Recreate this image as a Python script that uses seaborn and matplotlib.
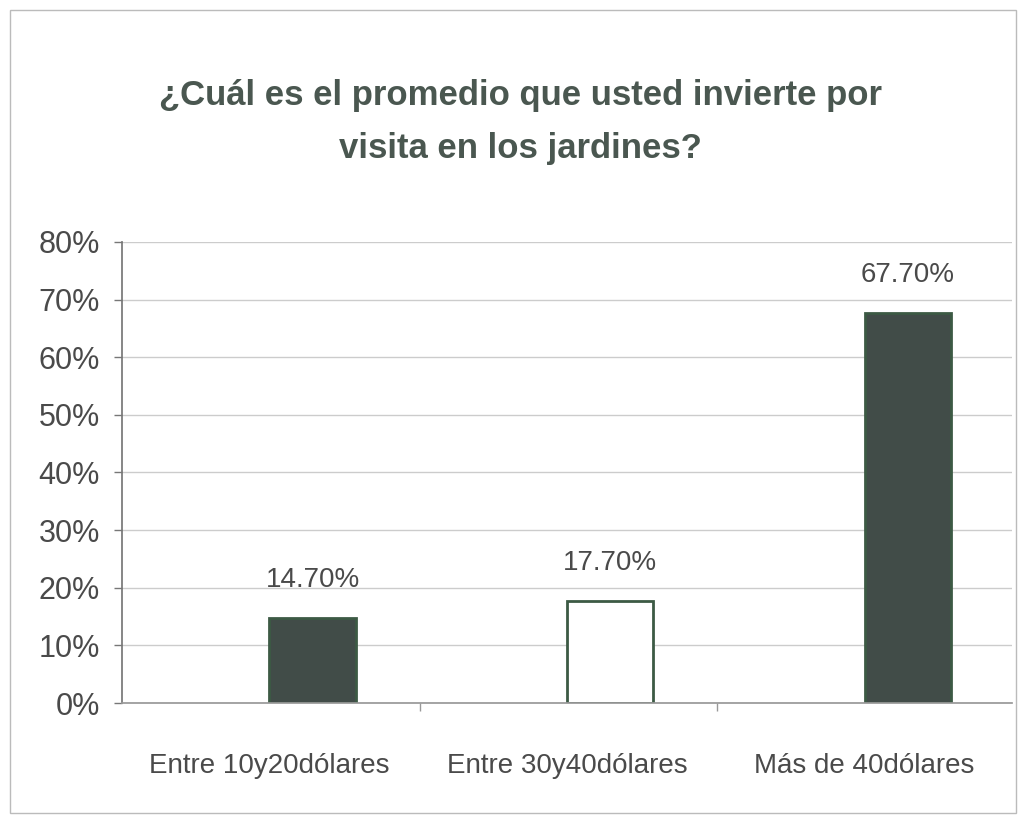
import matplotlib
matplotlib.use("Agg")
import matplotlib.pyplot as plt
import seaborn as sns
import pandas as pd
from matplotlib.patches import Rectangle

categories = ["Entre 10y20dólares", "Entre 30y40dólares", "Más de 40dólares"]
values = [14.7, 17.7, 67.7]
value_labels = ["14.70%", "17.70%", "67.70%"]
yticks = [0, 10, 20, 30, 40, 50, 60, 70, 80]
ytick_labels = ["0%", "10%", "20%", "30%", "40%", "50%", "60%", "70%", "80%"]
title = "¿Cuál es el promedio que usted invierte por\nvisita en los jardines?"

sns.set_theme(style="white")
plt.rcParams['font.family'] = ['Liberation Sans', 'DejaVu Sans']

df = pd.DataFrame({"cat": categories, "val": values})
fig = plt.figure(figsize=(10.26, 8.21), dpi=100)
ax = fig.add_axes([122/1026, 1-703/821, (1012-122)/1026, (703-242)/821])

dark = "#3f4e49"
sns.barplot(data=df, x="cat", y="val", ax=ax, width=0.29,
            palette=[dark, "#ffffff", dark], hue="cat", legend=False,
            edgecolor="#3c5a44", linewidth=2)

ax.set_xlim(-0.64, 2.35)
ax.set_ylim(0, 80)
ax.set_yticks(yticks)
ax.set_yticklabels(ytick_labels, fontsize=22, color="#4a4a4a")
ax.set_xticks([i - 0.145 for i in range(len(categories))])
ax.set_xticklabels(categories, fontsize=20, color="#4a4a4a")
ax.tick_params(axis="x", length=0, pad=36)
ax.tick_params(axis="y", length=6, width=1, color="#777777", left=True, pad=10)
ax.set_xlabel("")
ax.set_ylabel("")
ax.yaxis.grid(True, color="#cccccc", linewidth=1)
ax.set_axisbelow(True)
for s in ["top", "right"]:
    ax.spines[s].set_visible(False)
ax.spines["left"].set_color("#777777")
ax.spines["bottom"].set_color("#999999")
ax.set_xticks([0.36, 1.36], minor=True)
ax.tick_params(axis="x", which="minor", length=6, color="#999999", bottom=True, direction="out")

for i, (v, lab) in enumerate(zip(values, value_labels)):
    ax.annotate(lab, (i, v), xytext=(0, 18), textcoords="offset points",
                ha="center", va="bottom", fontsize=20, color="#4a4a4a")

fig.text(0.507, 1-122/821, title, ha="center", va="center", fontsize=25,
         fontweight="bold", color="#4a5750", linespacing=1.75)

fig.patches.append(Rectangle((10/1026, 8/821), 1006/1026, 803/821, transform=fig.transFigure,
                             fill=False, edgecolor="#bbbbbb", linewidth=1))

fig.savefig("out.png", dpi=100)
